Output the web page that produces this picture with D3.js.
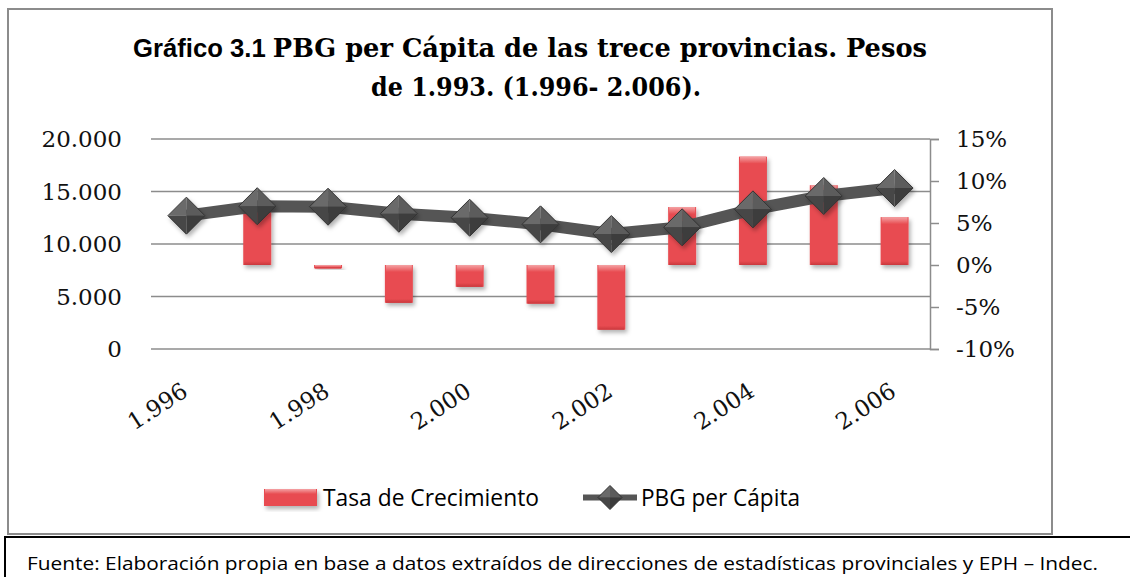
<!DOCTYPE html>
<html>
<head>
<meta charset="utf-8">
<script src="https://cdn.jsdelivr.net/npm/d3@7"></script>
<style>
  body { margin: 0; background: #fff; }
  svg { display: block; }
</style>
</head>
<body>
<div id="chart"></div>
<script>
// data
var years = [1996, 1997, 1998, 1999, 2000, 2001, 2002, 2003, 2004, 2005, 2006];
var growth = [null, 0.07, -0.004, -0.045, -0.026, -0.046, -0.077, 0.069, 0.129, 0.095, 0.057];
var pbg = [12700, 13600, 13550, 12880, 12500, 11870, 10950, 11590, 13300, 14570, 15330];
var leftTicks = [0, 5000, 10000, 15000, 20000];
var rightTicks = [-0.10, -0.05, 0, 0.05, 0.10, 0.15];
var labelYears = [1996, 1998, 2000, 2002, 2004, 2006];

var width = 1130, height = 577;
var serif = "'DejaVu Serif', serif";
var sans = "'Open Sans', sans-serif";

var es = d3.formatLocale({decimal: ",", thousands: ".", grouping: [3], currency: ["$", ""]});
var fmtNum = es.format(",");
var fmtYear = es.format(",d");

var svg = d3.select("#chart").append("svg")
    .attr("width", width)
    .attr("height", height);

var defs = svg.append("defs");

var shadow = defs.append("filter").attr("id", "shadow")
    .attr("x", "-30%").attr("y", "-30%").attr("width", "160%").attr("height", "160%");
shadow.append("feDropShadow")
    .attr("dx", 2).attr("dy", 3).attr("stdDeviation", 2)
    .attr("flood-color", "#000").attr("flood-opacity", 0.3);

var barGrad = defs.append("linearGradient").attr("id", "barTop")
    .attr("x1", 0).attr("y1", 0).attr("x2", 0).attr("y2", 1);
barGrad.append("stop").attr("offset", "0%").attr("stop-color", "#f4a3a5");
barGrad.append("stop").attr("offset", "100%").attr("stop-color", "#e84c51");

var barBottom = defs.append("linearGradient").attr("id", "barBottom")
    .attr("x1", 0).attr("y1", 0).attr("x2", 0).attr("y2", 1);
barBottom.append("stop").attr("offset", "0%").attr("stop-color", "#e84c51");
barBottom.append("stop").attr("offset", "100%").attr("stop-color", "#c9383d");

// outer frame of the chart
svg.append("rect")
    .attr("x", 8).attr("y", 9)
    .attr("width", 1044).attr("height", 525)
    .attr("fill", "none")
    .attr("stroke", "#8c8c8c")
    .attr("stroke-width", 2);

// footer box
svg.append("path")
    .attr("d", "M5,577 V537 H1130")
    .attr("fill", "none")
    .attr("stroke", "#000")
    .attr("stroke-width", 2);

svg.append("text")
    .attr("x", 27).attr("y", 570)
    .attr("font-family", sans)
    .attr("font-size", 18)
    .attr("textLength", 1071)
    .attr("lengthAdjust", "spacingAndGlyphs")
    .text("Fuente: Elaboración propia en base a datos extraídos de direcciones de estadísticas provinciales y EPH – Indec.");

// title
var title = svg.append("text")
    .attr("x", 530).attr("y", 57)
    .attr("text-anchor", "middle")
    .attr("font-weight", "bold")
    .attr("font-size", 26)
    .attr("textLength", 794)
    .attr("lengthAdjust", "spacingAndGlyphs");
title.append("tspan").attr("font-family", "'Liberation Sans', Arial, sans-serif").text("Gráfico 3.1 ");
title.append("tspan").attr("font-family", serif).text("PBG per Cápita de las trece provincias. Pesos");

svg.append("text")
    .attr("x", 536).attr("y", 96)
    .attr("text-anchor", "middle")
    .attr("font-weight", "bold")
    .attr("font-size", 26)
    .attr("font-family", serif)
    .attr("textLength", 330)
    .attr("lengthAdjust", "spacingAndGlyphs")
    .text("de 1.993. (1.996- 2.006).");

// scales
var x = d3.scaleBand()
    .domain(years)
    .range([151, 930])
    .paddingInner(0.605)
    .paddingOuter(0.3025);

var yL = d3.scaleLinear().domain([0, 20000]).range([349, 139]);
var yR = d3.scaleLinear().domain([-0.10, 0.15]).range([349, 139]);

// gridlines
svg.append("g")
    .selectAll("line")
    .data(leftTicks)
    .enter()
    .append("line")
    .attr("x1", 151).attr("x2", 930)
    .attr("y1", function(d) { return yL(d); })
    .attr("y2", function(d) { return yL(d); })
    .attr("stroke", "#8c8c8c")
    .attr("stroke-width", 1.5);

// left axis labels
svg.append("g")
    .selectAll("text")
    .data(leftTicks)
    .enter()
    .append("text")
    .attr("x", 122)
    .attr("y", function(d) { return yL(d); })
    .attr("dy", "0.36em")
    .attr("text-anchor", "end")
    .attr("font-family", serif)
    .attr("font-size", 23)
    .attr("fill", "#111")
    .text(function(d) { return fmtNum(d); });

// right axis
var rightAxis = d3.axisRight(yR)
    .tickValues(rightTicks)
    .tickSize(9)
    .tickPadding(17)
    .tickFormat(function(d) { return Math.round(d * 100) + "%"; });

var gR = svg.append("g")
    .attr("transform", "translate(930,0)")
    .call(rightAxis);
gR.select(".domain").attr("stroke", "#8c8c8c").attr("stroke-width", 1.5);
gR.selectAll(".tick line").attr("stroke", "#8c8c8c").attr("stroke-width", 1.5);
gR.selectAll(".tick text")
    .attr("font-family", serif)
    .attr("font-size", 23)
    .attr("fill", "#111");

// x labels, rotated
svg.append("g")
    .selectAll("text")
    .data(labelYears)
    .enter()
    .append("text")
    .attr("transform", function(d) {
        return "translate(" + (x(d) + x.bandwidth() / 2 + 3) + ",395) rotate(-33)";
    })
    .attr("text-anchor", "end")
    .attr("font-family", serif)
    .attr("font-size", 23)
    .attr("fill", "#111")
    .text(function(d) { return fmtYear(d); });

// bars
var barData = years.map(function(y, i) { return {year: y, v: growth[i]}; })
    .filter(function(d) { return d.v !== null; });

var bars = svg.append("g").selectAll("g")
    .data(barData)
    .enter()
    .append("g");

bars.append("rect")
    .attr("x", function(d) { return x(d.year); })
    .attr("y", function(d) { return Math.min(yR(d.v), yR(0)); })
    .attr("width", x.bandwidth())
    .attr("height", function(d) { return Math.abs(yR(d.v) - yR(0)); })
    .attr("fill", "#e84c51")
    .attr("filter", "url(#shadow)");

// bevel highlight at the top of each bar
bars.append("rect")
    .attr("x", function(d) { return x(d.year) + 1; })
    .attr("y", function(d) { return Math.min(yR(d.v), yR(0)); })
    .attr("width", x.bandwidth() - 2)
    .attr("height", function(d) { return Math.min(7, Math.abs(yR(d.v) - yR(0))); })
    .attr("fill", "url(#barTop)");

// darker edge at the bottom
bars.append("rect")
    .attr("x", function(d) { return x(d.year) + 1; })
    .attr("y", function(d) { return Math.max(yR(d.v), yR(0)) - Math.min(4, Math.abs(yR(d.v) - yR(0)) / 2); })
    .attr("width", x.bandwidth() - 2)
    .attr("height", function(d) { return Math.min(4, Math.abs(yR(d.v) - yR(0)) / 2); })
    .attr("fill", "url(#barBottom)");

// line
var lineData = years.map(function(y, i) { return {year: y, v: pbg[i]}; });
var cx = function(d) { return x(d.year) + x.bandwidth() / 2; };

var line = d3.line()
    .x(cx)
    .y(function(d) { return yL(d.v); });

svg.append("path")
    .datum(lineData)
    .attr("d", line)
    .attr("fill", "none")
    .attr("stroke", "#555")
    .attr("stroke-width", 12)
    .attr("stroke-linejoin", "round");

// diamond markers with four shaded facets
function drawDiamond(g, r) {
    var facets = [
        {p: [[0, 0], [-r, 0], [0, -r]], c: "#6a6a6a"},
        {p: [[0, 0], [0, -r], [r, 0]], c: "#5c5c5c"},
        {p: [[0, 0], [r, 0], [0, r]], c: "#3c3c3c"},
        {p: [[0, 0], [0, r], [-r, 0]], c: "#474747"}
    ];
    g.selectAll("polygon.f")
        .data(facets)
        .enter()
        .append("polygon")
        .attr("class", "f")
        .attr("points", function(f) { return f.p.join(" "); })
        .attr("fill", function(f) { return f.c; });
    g.append("polygon")
        .attr("points", [[-r, 0], [0, -r], [r, 0], [0, r]].join(" "))
        .attr("fill", "none")
        .attr("stroke", "#333")
        .attr("stroke-width", 1);
}

svg.append("g").selectAll("g")
    .data(lineData)
    .enter()
    .append("g")
    .attr("transform", function(d) { return "translate(" + cx(d) + "," + yL(d.v) + ")"; })
    .attr("filter", "url(#shadow)")
    .each(function() { drawDiamond(d3.select(this), 18.5); });

// legend
var legend = svg.append("g");

legend.append("rect")
    .attr("x", 264).attr("y", 489)
    .attr("width", 53).attr("height", 17)
    .attr("fill", "#e84c51")
    .attr("filter", "url(#shadow)");
legend.append("rect")
    .attr("x", 265).attr("y", 489)
    .attr("width", 51).attr("height", 5)
    .attr("fill", "url(#barTop)");

legend.append("text")
    .attr("x", 323).attr("y", 506)
    .attr("font-family", sans)
    .attr("font-size", 23)
    .attr("textLength", 216)
    .attr("lengthAdjust", "spacingAndGlyphs")
    .text("Tasa de Crecimiento");

legend.append("line")
    .attr("x1", 583).attr("x2", 637)
    .attr("y1", 497.5).attr("y2", 497.5)
    .attr("stroke", "#555")
    .attr("stroke-width", 6);

var lgD = legend.append("g").attr("transform", "translate(610,497.5)");
drawDiamond(lgD, 12);

legend.append("text")
    .attr("x", 641).attr("y", 506)
    .attr("font-family", sans)
    .attr("font-size", 23)
    .attr("textLength", 159)
    .attr("lengthAdjust", "spacingAndGlyphs")
    .text("PBG per Cápita");
</script>
</body>
</html>
